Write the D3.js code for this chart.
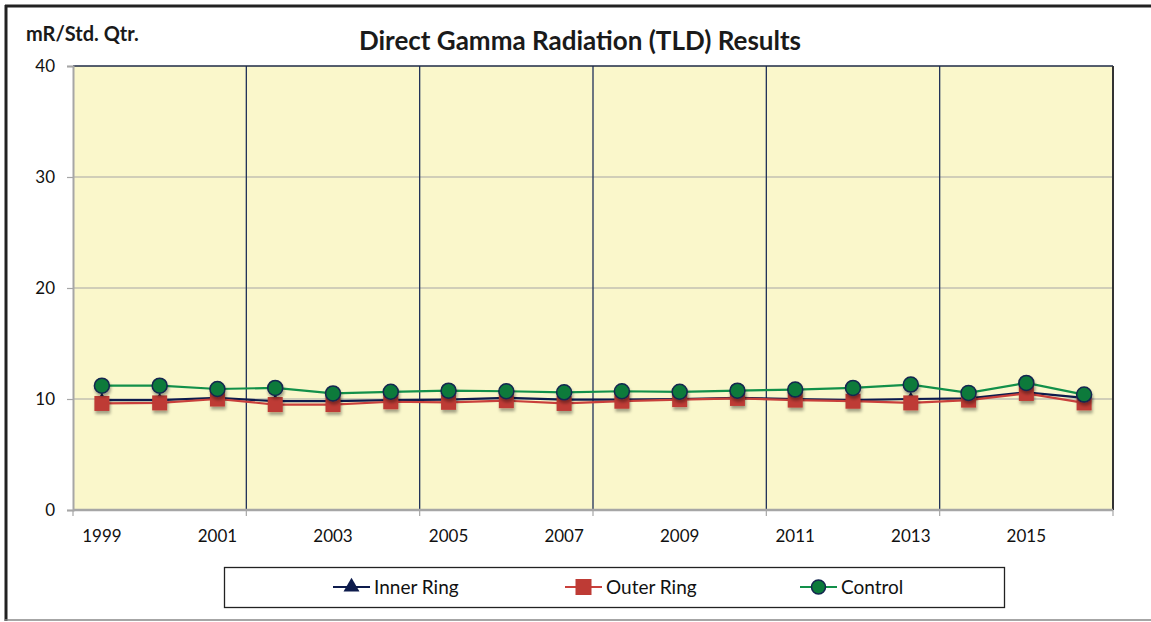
<!doctype html>
<html lang="en">
<head>
<meta charset="utf-8">
<title>Direct Gamma Radiation (TLD) Results</title>
<style>
  body { margin: 0; background: #fff; }
  svg { display: block; font-family: Lato, "Open Sans", sans-serif; }
</style>
</head>
<body>
<div id="chart"></div>
<script src="https://d3js.org/d3.v7.min.js"></script>
<script>
// chart data
var years = [1999, 2000, 2001, 2002, 2003, 2004, 2005, 2006, 2007, 2008,
             2009, 2010, 2011, 2012, 2013, 2014, 2015, 2016];
var innerRing = [9.9, 9.9, 10.1, 9.8, 9.8, 9.9, 9.95, 10.1, 9.95, 9.95,
                 10.0, 10.1, 10.0, 9.9, 10.0, 10.05, 10.6, 10.1];
var outerRing = [9.6, 9.65, 10.0, 9.5, 9.5, 9.75, 9.7, 9.85, 9.6, 9.8,
                 9.95, 10.05, 9.9, 9.8, 9.65, 9.9, 10.5, 9.65];
var control = [11.2, 11.2, 10.9, 11.0, 10.5, 10.65, 10.75, 10.7, 10.6, 10.7,
               10.65, 10.75, 10.85, 11.0, 11.3, 10.55, 11.45, 10.4];
var yTicks = [0, 10, 20, 30, 40];
var xLabels = [1999, 2001, 2003, 2005, 2007, 2009, 2011, 2013, 2015];

var W = 1151, H = 622;
var margin = {top: 66, right: 38, bottom: 112, left: 73};
var width = W - margin.left - margin.right,
    height = H - margin.top - margin.bottom;

var svg = d3.select("#chart").append("svg")
  .attr("width", W)
  .attr("height", H);

// marker shadow
var defs = svg.append("defs");
var f = defs.append("filter").attr("id", "shadow")
  .attr("x", "-50%").attr("y", "-50%").attr("width", "200%").attr("height", "200%");
f.append("feDropShadow").attr("dx", 1).attr("dy", 3).attr("stdDeviation", 1.5)
  .attr("flood-color", "#000").attr("flood-opacity", 0.35);

// outer frame: thick dark left/top, thin gray bottom
svg.append("line").attr("x1", 6).attr("x2", 6).attr("y1", 5).attr("y2", 621)
  .attr("stroke", "#222").attr("stroke-width", 3);
svg.append("line").attr("x1", 5).attr("x2", W).attr("y1", 6).attr("y2", 6)
  .attr("stroke", "#222").attr("stroke-width", 3);
svg.append("line").attr("x1", 5).attr("x2", W).attr("y1", 620).attr("y2", 620)
  .attr("stroke", "#888").attr("stroke-width", 1.5);

var x = d3.scaleBand().domain(years).range([0, width]);
var y = d3.scaleLinear().domain([0, 40]).range([height, 0]);

var g = svg.append("g")
  .attr("transform", "translate(" + margin.left + "," + margin.top + ")");

// plot background
g.append("rect")
  .attr("x", 0).attr("y", 0)
  .attr("width", width).attr("height", height)
  .attr("fill", "#faf7cb");

// horizontal gridlines
g.selectAll(".hgrid")
  .data(yTicks.filter(function(d){ return d > 0 && d < 40; }))
  .enter().append("line")
    .attr("x1", 0).attr("x2", width)
    .attr("y1", function(d){ return y(d); })
    .attr("y2", function(d){ return y(d); })
    .attr("stroke", "#a6a6a6").attr("stroke-width", 1.2);

// vertical dark gridlines every 3 categories
var boundaries = years.filter(function(d, i){ return i > 0 && i % 3 === 0; });
g.selectAll(".vgrid")
  .data(boundaries)
  .enter().append("line")
    .attr("x1", function(d){ return x(d); })
    .attr("x2", function(d){ return x(d); })
    .attr("y1", 0).attr("y2", height)
    .attr("stroke", "#1f3058").attr("stroke-width", 1.3);

// plot border top and right
g.append("line").attr("x1", 0).attr("x2", width).attr("y1", 0).attr("y2", 0)
  .attr("stroke", "#1e2a44").attr("stroke-width", 1.5);
g.append("line").attr("x1", width).attr("x2", width).attr("y1", 0).attr("y2", height)
  .attr("stroke", "#333").attr("stroke-width", 2);

// y axis
var yAxis = g.append("g")
  .call(d3.axisLeft(y).tickValues(yTicks).tickSize(6).tickPadding(12));
yAxis.select(".domain").attr("stroke", "#a6a6a6").attr("stroke-width", 2);
yAxis.selectAll(".tick line").attr("stroke", "#a6a6a6").attr("stroke-width", 1.2);
yAxis.selectAll("text").attr("font-size", "17px").attr("fill", "#111")
  .attr("font-family", "Lato, sans-serif");

// x axis: ticks at every third category boundary, labels every other year
var tickPos = [0].concat(boundaries.map(function(d){ return x(d); })).concat([width]);
var xg = g.append("g").attr("transform", "translate(0," + height + ")");
xg.append("line").attr("x1", 0).attr("x2", width).attr("y1", 0).attr("y2", 0)
  .attr("stroke", "#a6a6a6").attr("stroke-width", 2.5);
xg.selectAll(".xt").data(tickPos).enter().append("line")
  .attr("x1", function(d){ return d; }).attr("x2", function(d){ return d; })
  .attr("y1", 0).attr("y2", 6)
  .attr("stroke", "#a6a6a6").attr("stroke-width", 1.2);
xg.selectAll(".xl").data(xLabels).enter().append("text")
  .attr("x", function(d){ return x(d) + x.bandwidth() / 2; })
  .attr("y", 32)
  .attr("text-anchor", "middle")
  .attr("font-size", "17px").attr("fill", "#111")
  .text(function(d){ return d; });

// series
var series = [
  {name: "Inner Ring", values: innerRing, line: "#0d1b4c", fill: "#0d1b4c", shape: "triangle"},
  {name: "Outer Ring", values: outerRing, line: "#c9403b", fill: "#be3b35", shape: "square"},
  {name: "Control", values: control, line: "#12904a", fill: "#0b7a3b", shape: "circle"}
];

var line = d3.line()
  .x(function(d, i){ return x(years[i]) + x.bandwidth() / 2; })
  .y(function(d){ return y(d); });

function drawMarker(sel, shape, s) {
  if (shape === "triangle") {
    sel.append("path")
      .attr("d", d3.symbol().type(d3.symbolTriangle).size(s.size || 70)())
      .attr("fill", s.fill);
  } else if (shape === "square") {
    sel.append("rect")
      .attr("x", -s.half).attr("y", -s.half)
      .attr("width", s.half * 2).attr("height", s.half * 2)
      .attr("fill", s.fill);
  } else {
    sel.append("circle").attr("r", s.r)
      .attr("fill", s.fill).attr("stroke", "#13264f").attr("stroke-width", 1.5);
  }
}

series.forEach(function(s) {
  g.append("path")
    .datum(s.values)
    .attr("fill", "none")
    .attr("stroke", s.line)
    .attr("stroke-width", 2.2)
    .attr("d", line);
  g.selectAll(".m-" + s.shape)
    .data(s.values)
    .enter().append("g")
      .attr("filter", "url(#shadow)")
      .attr("transform", function(d, i){
        return "translate(" + (x(years[i]) + x.bandwidth() / 2) + "," + y(d) + ")";
      })
      .each(function(){
        drawMarker(d3.select(this), s.shape, {fill: s.fill, half: 7.5, r: 7.5, size: 70});
      });
});

// title and axis caption
svg.append("text")
  .attr("x", 580).attr("y", 50)
  .attr("text-anchor", "middle")
  .attr("font-size", "26px").attr("font-weight", "bold").attr("fill", "#1a1a1a")
  .text("Direct Gamma Radiation (TLD) Results");
svg.append("text")
  .attr("x", 26).attr("y", 41)
  .attr("font-size", "20px").attr("font-weight", "bold").attr("fill", "#1a1a1a")
  .text("mR/Std. Qtr.");

// legend
var lg = svg.append("g");
lg.append("rect")
  .attr("x", 224.5).attr("y", 567.5).attr("width", 780).attr("height", 40)
  .attr("fill", "#fff").attr("stroke", "#222").attr("stroke-width", 1.3);
var legendX = [333, 565, 800];
series.forEach(function(s, i) {
  var item = lg.append("g").attr("transform", "translate(" + legendX[i] + ",587)");
  item.append("line").attr("x1", 0).attr("x2", 37).attr("y1", 0).attr("y2", 0)
    .attr("stroke", s.line).attr("stroke-width", 2);
  var m = item.append("g").attr("transform", "translate(18.5,0)");
  drawMarker(m, s.shape, {fill: s.fill, half: 8, r: 7, size: 110});
  item.append("text")
    .attr("x", 41).attr("y", 7)
    .attr("font-size", "19px").attr("fill", "#111")
    .text(s.name);
});
</script>
</body>
</html>
